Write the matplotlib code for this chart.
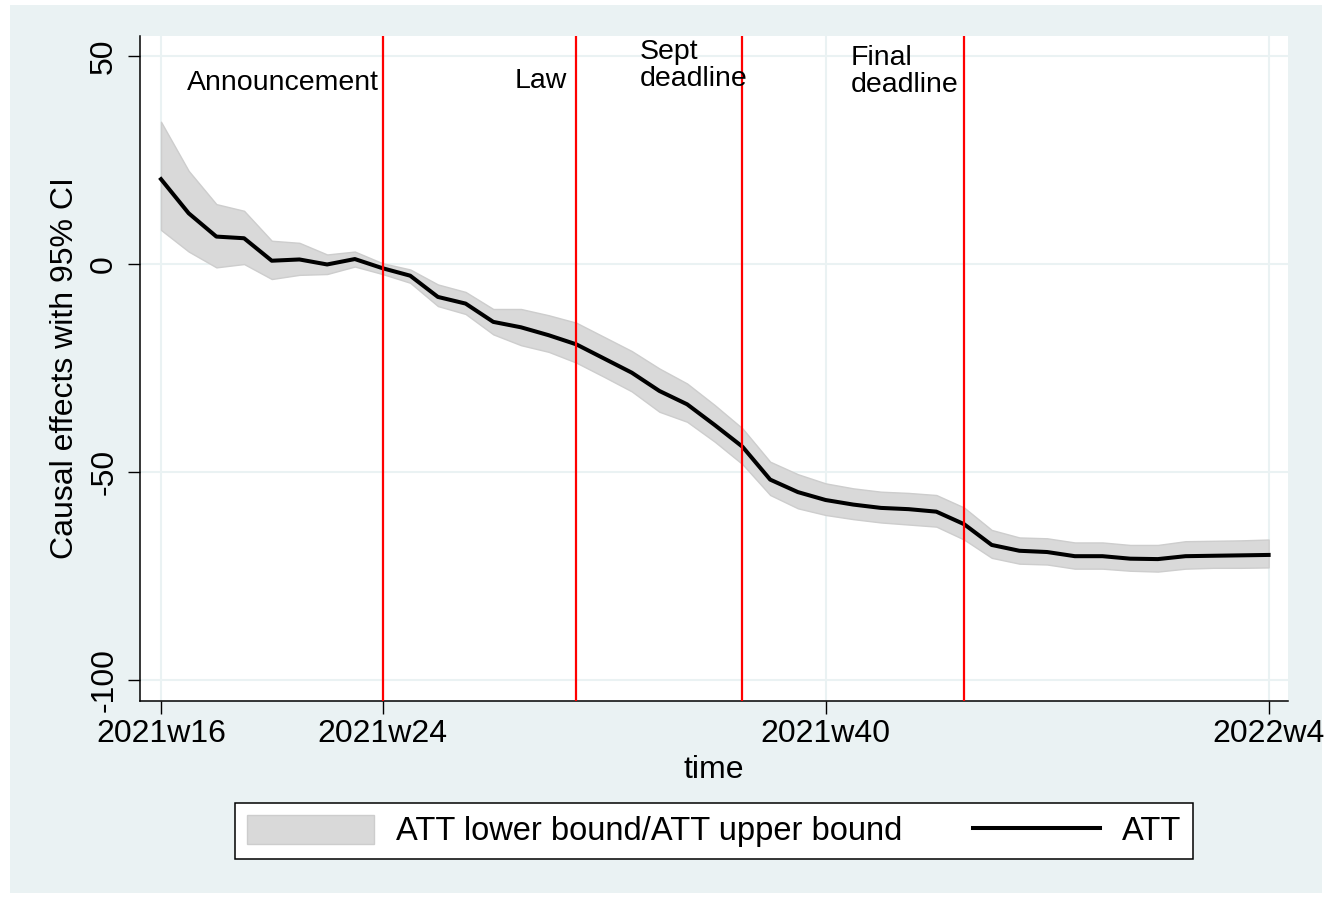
import matplotlib
matplotlib.use("Agg")
import matplotlib.pyplot as plt
from matplotlib.patches import Patch, Rectangle
from matplotlib.lines import Line2D
import numpy as np

plt.rcParams['font.family'] = ['Liberation Sans', 'DejaVu Sans']

# weekly estimates, 2021w16 .. 2022w4
att = [20.4, 12.2, 6.6, 6.2, 0.8, 1.1, -0.1, 1.2, -1.0, -2.8,
       -7.9, -9.5, -13.9, -15.2, -17.1, -19.3, -22.7, -26.1, -30.5, -33.7,
       -38.7, -43.9, -51.8, -54.8, -56.7, -57.8, -58.6, -58.9, -59.5, -62.5,
       -67.5, -68.9, -69.2, -70.2, -70.2, -70.8, -70.9, -70.2, -70.1, -70.0,
       -69.9]
upper = [34.2, 22.4, 14.4, 12.8, 5.6, 5.1, 2.3, 3.0, 0.2, -1.3,
         -4.9, -6.7, -10.8, -10.8, -12.3, -14.1, -17.5, -20.9, -25.1, -28.7,
         -33.9, -39.5, -47.5, -50.5, -52.7, -53.9, -54.7, -55.0, -55.5, -58.5,
         -63.9, -65.7, -65.9, -66.9, -66.9, -67.5, -67.5, -66.6, -66.5, -66.4,
         -66.2]
lower = [8.2, 3.0, -0.8, 0.0, -3.6, -2.6, -2.4, -0.6, -2.4, -4.5,
         -10.1, -12.0, -16.9, -19.5, -21.1, -23.7, -27.1, -30.6, -35.5, -37.9,
         -42.7, -48.1, -55.5, -58.7, -60.3, -61.3, -62.1, -62.6, -63.1, -66.2,
         -70.6, -72.0, -72.2, -73.2, -73.2, -73.7, -73.9, -73.2, -73.0, -73.0,
         -72.9]

tick_idx = [0, 8, 24, 40]
tick_labels = ['2021w16', '2021w24', '2021w40', '2022w4']
y_ticks = [50, 0, -50, -100]

event_idx = [8, 15, 21, 29]
event_labels = ['Announcement', 'Law', 'Sept\ndeadline', 'Final\ndeadline']
event_text_x = [0.94, 12.78, 17.30, 24.92]
event_text_y = [43.6, 43.9, 47.6, 46.3]

BG = '#EAF2F3'

W, H = 1325, 898
fig = plt.figure(figsize=(W / 100, H / 100), dpi=100)
fig.patch.set_facecolor('white')
fig.patches.append(Rectangle((10 / W, 1 - 893 / H), 1312 / W, 888 / H,
                             transform=fig.transFigure, facecolor=BG,
                             edgecolor='none', zorder=-1))

ax = fig.add_axes([140 / W, 1 - 701 / H, 1148 / W, 665 / H])
ax.set_zorder(1)
ax.set_facecolor('white')

x = np.arange(len(att))
ax.fill_between(x, lower, upper, facecolor='#D9D9D9', edgecolor='#CDCDCD',
                linewidth=1.0, zorder=2)
ax.plot(x, att, color='black', linewidth=2.9, zorder=3)

for xi in event_idx:
    ax.axvline(xi, color='red', linewidth=1.6, zorder=4)

for tx, ty, lab in zip(event_text_x, event_text_y, event_labels):
    ax.text(tx, ty, lab, fontsize=20.5, ha='left', va='center',
            linespacing=1.05, zorder=5)

ax.set_xlim(-0.758, 40.70)
ax.set_ylim(-105.0, 54.8)

ax.set_xticks(tick_idx)
ax.set_xticklabels(tick_labels)
ax.set_yticks(y_ticks)
ax.set_yticklabels([str(v) for v in y_ticks], rotation=90, va='center')
ax.tick_params(axis='both', labelsize=23, length=9, width=1.0, color='black')
ax.tick_params(axis='x', pad=4)
ax.tick_params(axis='y', pad=6)

ax.grid(True, color=BG, linewidth=1.5, zorder=1)
ax.set_axisbelow(True)

for side in ['top', 'right']:
    ax.spines[side].set_visible(False)
for side in ['left', 'bottom']:
    ax.spines[side].set_color('black')
    ax.spines[side].set_linewidth(1.1)

ax.set_xlabel('time', fontsize=23)
ax.xaxis.set_label_coords(0.5, (701 - 770) / 665)
ax.xaxis.label.set_va('center')
ax.set_ylabel('Causal effects with 95% CI', fontsize=23)
ax.yaxis.set_label_coords((65 - 140) / 1148, 0.5)
ax.yaxis.label.set_va('center')

handles = [Patch(facecolor='#D9D9D9', edgecolor='#CDCDCD', linewidth=1.0),
           Line2D([0], [0], color='black', linewidth=2.9)]
leg = fig.legend(handles, ['ATT lower bound/ATT upper bound', 'ATT'],
                 loc='center', bbox_to_anchor=(714 / W, 1 - 831 / H),
                 ncol=2, fontsize=23.5, frameon=True, fancybox=False,
                 handlelength=3.9, handleheight=1.0, handletextpad=0.68,
                 columnspacing=2.15, borderpad=0.35, borderaxespad=0)
leg.get_frame().set_edgecolor('black')
leg.get_frame().set_linewidth(1.1)
leg.get_frame().set_alpha(1)

fig.savefig('out.png', dpi=100, facecolor=fig.get_facecolor())
